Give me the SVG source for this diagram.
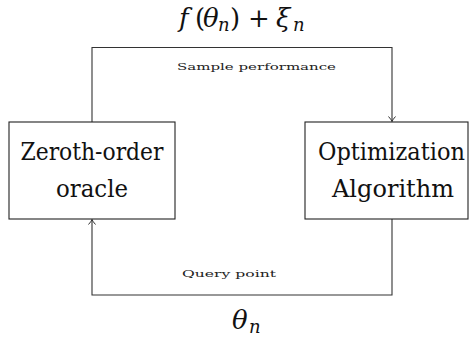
<svg xmlns="http://www.w3.org/2000/svg" width="469" height="339" viewBox="0 0 469 339">
<defs>
<style>
.box{fill:#fff;stroke:#222;stroke-width:1.1}
.lbl{font-size:23.5px;fill:#111;text-anchor:middle}
.small{font-size:10px;fill:#222}
.math{font-size:26px;fill:#111}
.it{font-style:italic}
.sub{font-size:18px;font-style:italic}
.conn{fill:none;stroke:#333;stroke-width:1.1}
</style>
<marker id="arr" markerWidth="10" markerHeight="10" refX="7" refY="5" orient="auto" markerUnits="userSpaceOnUse">
<path d="M2,1.5 Q5,4.2 7,5 Q5,5.8 2,8.5" fill="none" stroke="#333" stroke-width="1"/>
</marker>
</defs>
<rect width="469" height="339" fill="#fff"/>
<g id="connectors">
<path class="conn" d="M92,122 V47.5 H392 V121.5" marker-end="url(#arr)"/>
<path class="conn" d="M392,219 V295 H92 V219.5" marker-end="url(#arr)"/>
</g>
<g id="oracle">
<rect class="box" x="9" y="122" width="166" height="97"/>
<text class="lbl" x="92" y="160" font-family="DejaVu Serif, serif" textLength="143" lengthAdjust="spacingAndGlyphs">Zeroth-order</text>
<text class="lbl" x="92" y="197" font-family="DejaVu Serif, serif" textLength="72" lengthAdjust="spacingAndGlyphs">oracle</text>
</g>
<g id="algorithm">
<rect class="box" x="305" y="122" width="163" height="97"/>
<text class="lbl" x="391.5" y="160" font-family="DejaVu Serif, serif" textLength="147" lengthAdjust="spacingAndGlyphs">Optimization</text>
<text class="lbl" x="393" y="197" font-family="DejaVu Serif, serif" textLength="122" lengthAdjust="spacingAndGlyphs">Algorithm</text>
</g>
<g id="labels">
<text class="small" x="177" y="70" font-family="DejaVu Serif, serif" textLength="159" lengthAdjust="spacingAndGlyphs">Sample performance</text>
<text class="small" x="182" y="277" font-family="DejaVu Serif, serif" textLength="94" lengthAdjust="spacingAndGlyphs">Query point</text>
<text class="math" font-family="DejaVu Serif, serif"><tspan class="it" x="179" y="27">f</tspan><tspan x="195" y="27">(</tspan><tspan class="it" x="203" y="27">θ</tspan><tspan class="sub" x="218" y="31">n</tspan><tspan x="230" y="27">)</tspan><tspan x="248" y="27">+</tspan><tspan class="it" x="276" y="27">ξ</tspan><tspan class="sub" x="293" y="31">n</tspan></text>
<text class="math" font-family="DejaVu Serif, serif"><tspan class="it" x="232" y="329">θ</tspan><tspan class="sub" x="249" y="333">n</tspan></text>
</g>
</svg>
